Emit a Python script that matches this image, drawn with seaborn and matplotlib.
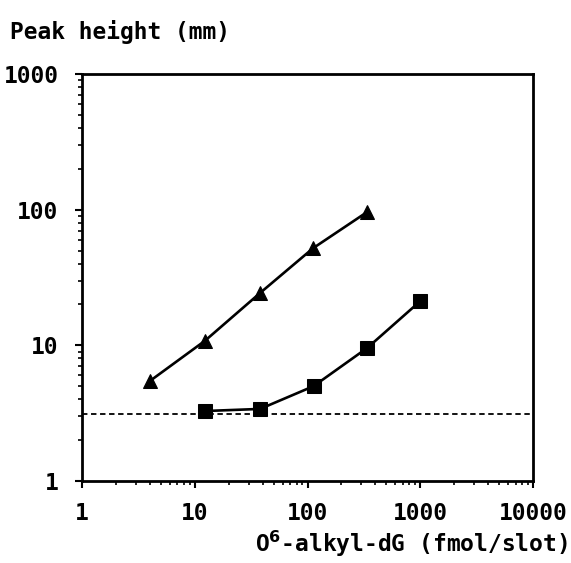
import matplotlib
matplotlib.use("Agg")
import matplotlib.pyplot as plt
import seaborn as sns
import pandas as pd
from matplotlib.ticker import LogLocator, FixedFormatter, FixedLocator, NullFormatter

sns.set_style("ticks")
plt.rcParams['font.family'] = ['DejaVu Sans Mono']
plt.rcParams['font.weight'] = 'bold'
plt.rcParams['text.color'] = 'black'
plt.rcParams['xtick.color'] = 'black'
plt.rcParams['ytick.color'] = 'black'

tri_x = [4, 12.3, 37.9, 112, 337]
tri_y = [5.46, 10.8, 24.3, 52, 96]
sq_x = [12.3, 38, 113, 340, 1000]
sq_y = [3.28, 3.4, 5.0, 9.6, 21.2]
background = 3.1

df = pd.concat([
    pd.DataFrame({'x': tri_x, 'y': tri_y, 'series': 'tri'}),
    pd.DataFrame({'x': sq_x, 'y': sq_y, 'series': 'sq'}),
])

fig = plt.figure(figsize=(5.71, 5.63), dpi=100)
ax = fig.add_axes([0.1436, 0.1456, 0.79, 0.7230])

sns.lineplot(data=df, x='x', y='y', style='series', markers={'tri': '^', 'sq': 's'},
             dashes=False, color='black', estimator=None, sort=False,
             markersize=10, linewidth=1.9, markeredgecolor='black', legend=False, ax=ax)

ax.axhline(background, color='black', lw=1.3, ls=(0, (3, 2)))

ax.set_xscale('log')
ax.set_yscale('log')
ax.set_xlim(1, 10000)
ax.set_ylim(1, 1000)

ax.xaxis.set_major_locator(FixedLocator([1, 10, 100, 1000, 10000]))
ax.xaxis.set_major_formatter(FixedFormatter(['1', '10', '100', '1000', '10000']))
ax.yaxis.set_major_locator(FixedLocator([1, 10, 100, 1000]))
ax.yaxis.set_major_formatter(FixedFormatter(['1', '10', '100', '1000']))
for axis in (ax.xaxis, ax.yaxis):
    axis.set_minor_locator(LogLocator(base=10, subs=range(2, 10)))
    axis.set_minor_formatter(NullFormatter())

ax.tick_params(which='major', direction='out', length=5, width=1.5, labelsize=16.5)
ax.tick_params(which='minor', direction='out', length=3, width=1.2)
ax.tick_params(axis='y', pad=12)
ax.tick_params(axis='x', pad=10)
for s in ax.spines.values():
    s.set_linewidth(2)
    s.set_color('black')
    s.set_visible(True)

ax.set_xlabel('')
ax.set_ylabel('')
fig.text(0.018, 0.93, 'Peak height (mm)', fontsize=16.5, fontweight='bold', ha='left', va='baseline')
fig.text(0.995, 0.02, 'O$^{\\mathbf{6}}$-alkyl-dG (fmol/slot)', fontsize=16.5, fontweight='bold',
         ha='right', va='baseline')

fig.savefig('out.png', dpi=100, facecolor='white')
